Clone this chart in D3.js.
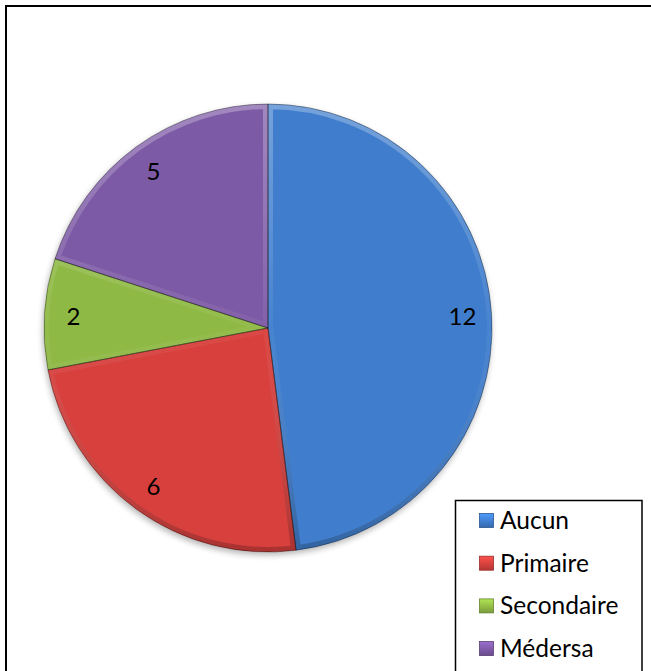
<!DOCTYPE html>
<html>
<head>
<meta charset="utf-8">
<script src="https://cdn.jsdelivr.net/npm/d3@7"></script>
<style>
  html, body { margin: 0; padding: 0; background: #fff; overflow: hidden; }
  svg { display: block; }
</style>
</head>
<body>
<script>
// Niveau d'instruction
const categories = ["Aucun", "Primaire", "Secondaire", "Médersa"];
const values = [12, 6, 2, 5];
const colors = ["#3f7ecd", "#d8413d", "#8fb945", "#7d5aa6"];

const W = 651, H = 671;
const cx = 268, cy = 328, R = 224;
const FONT = "Lato, 'Open Sans', sans-serif";

const svg = d3.select("body").append("svg").attr("width", W).attr("height", H);
const defs = svg.append("defs");

// soft shadow under the pie
const sh = defs.append("filter").attr("id", "shadow")
  .attr("x", "-20%").attr("y", "-20%").attr("width", "140%").attr("height", "140%");
sh.append("feGaussianBlur").attr("in", "SourceAlpha").attr("stdDeviation", 3);
sh.append("feOffset").attr("dx", -1).attr("dy", 3).attr("result", "b");
sh.append("feComponentTransfer").append("feFuncA").attr("type", "linear").attr("slope", 0.3);
const m = sh.append("feMerge");
m.append("feMergeNode");
m.append("feMergeNode").attr("in", "SourceGraphic");

// bevel gradient (light on top, dark at bottom)
const bev = defs.append("linearGradient").attr("id", "bevel")
  .attr("gradientUnits", "userSpaceOnUse")
  .attr("x1", 0).attr("y1", -R).attr("x2", 0).attr("y2", R);
bev.append("stop").attr("offset", "0%").attr("stop-color", "#fff").attr("stop-opacity", 0.28);
bev.append("stop").attr("offset", "50%").attr("stop-color", "#fff").attr("stop-opacity", 0.04);
bev.append("stop").attr("offset", "100%").attr("stop-color", "#000").attr("stop-opacity", 0.22);

// outer frame
svg.append("rect").attr("x", 6).attr("y", 6).attr("width", W + 10).attr("height", H + 10)
  .attr("fill", "none").attr("stroke", "#000").attr("stroke-width", 2);

const pie = d3.pie().sort(null).value(d => d)(values);
const arc = d3.arc().innerRadius(0).outerRadius(R);
const labelArc = d3.arc().innerRadius(R * 0.87).outerRadius(R * 0.87);

const g = svg.append("g").attr("transform", `translate(${cx},${cy})`);

pie.forEach((d, i) => {
  defs.append("clipPath").attr("id", "clip" + i).append("path").attr("d", arc(d));
});

g.append("g").attr("filter", "url(#shadow)")
  .selectAll("path.slice").data(pie).join("path")
  .attr("class", "slice")
  .attr("d", arc)
  .attr("fill", (d, i) => colors[i]);

// bevelled edges
g.selectAll("path.bevel").data(pie).join("path")
  .attr("class", "bevel")
  .attr("d", arc)
  .attr("fill", "none")
  .attr("stroke", "url(#bevel)")
  .attr("stroke-width", 10)
  .attr("clip-path", (d, i) => `url(#clip${i})`);

g.selectAll("path.edge").data(pie).join("path")
  .attr("class", "edge")
  .attr("d", arc)
  .attr("fill", "none")
  .attr("stroke", "rgba(0,0,0,0.45)")
  .attr("stroke-width", 0.8);

// value labels
g.selectAll("text.val").data(pie).join("text")
  .attr("class", "val")
  .attr("transform", d => `translate(${labelArc.centroid(d)})`)
  .attr("text-anchor", "middle")
  .attr("dominant-baseline", "central")
  .attr("font-family", FONT)
  .attr("font-size", 24)
  .attr("fill", "#000")
  .text(d => d.data);

// legend
const lg = svg.append("g");
lg.append("rect").attr("x", 455.5).attr("y", 500.5).attr("width", 186.5).attr("height", 190)
  .attr("fill", "#fff").attr("stroke", "#000").attr("stroke-width", 1.5);

categories.forEach((c, i) => {
  const y = 529 + i * 42.7;
  const gid = "sw" + i;
  const grad = defs.append("linearGradient").attr("id", gid)
    .attr("x1", 0).attr("y1", 0).attr("x2", 0).attr("y2", 1);
  grad.append("stop").attr("offset", "0%").attr("stop-color", d3.color(colors[i]).brighter(0.6));
  grad.append("stop").attr("offset", "100%").attr("stop-color", d3.color(colors[i]).darker(0.5));
  lg.append("rect").attr("x", 479.5).attr("y", y - 15.5).attr("width", 14).attr("height", 14)
    .attr("fill", `url(#${gid})`).attr("stroke", d3.color(colors[i]).darker(1)).attr("stroke-width", 0.8);
  lg.append("text").attr("x", 500).attr("y", y)
    .attr("font-family", FONT)
    .attr("font-size", 24.5).attr("fill", "#000")
    .text(c);
});
</script>
</body>
</html>
